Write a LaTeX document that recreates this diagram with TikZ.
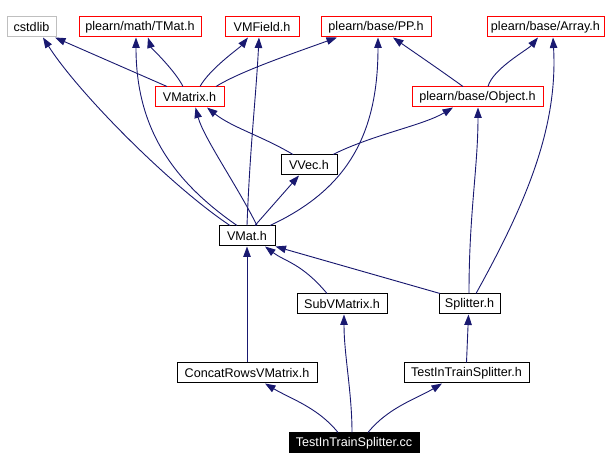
\documentclass[tikz,border=0pt]{standalone}
\usepackage{fontspec}
\setmainfont{Liberation Sans}
\usetikzlibrary{arrows.meta}
\definecolor{edgecol}{RGB}{25,25,112}
\definecolor{graybox}{RGB}{191,191,191}
\definecolor{redline}{RGB}{255,0,0}
\tikzset{
  filebox/.style={line width=1pt, minimum height=20pt, inner sep=0pt,
    font=\fontsize{12.6}{14}\selectfont, fill=white},
  blackbox/.style={filebox, draw=black},
  redbox/.style={filebox, draw=redline},
  greybox/.style={filebox, draw=graybox},
  rootbox/.style={filebox, draw=black, fill=black, text=white},
  dep/.style={draw=edgecol, line width=0.9pt, -{Triangle[length=10.5pt,width=7.5pt]}},
}
\begin{document}
\begin{tikzpicture}[x=1pt,y=-1pt]
\useasboundingbox (0,0) rectangle (614,470);
% nodes
\node[greybox, minimum width=49pt] (cstdlib) at (31.5,27) {cstdlib};
\node[redbox, minimum width=122pt] (tmat) at (140,27) {plearn/math/TMat.h};
\node[redbox, minimum width=74pt] (vmfield) at (262,27) {VMField.h};
\node[redbox, minimum width=110pt] (pp) at (376,27) {plearn/base/PP.h};
\node[redbox, minimum width=117pt] (array) at (545.5,27) {plearn/base/Array.h};
\node[redbox, minimum width=69pt] (vmatrix) at (189.5,97) {VMatrix.h};
\node[redbox, minimum width=131pt] (object) at (477.5,97) {plearn/base/Object.h};
\node[blackbox, minimum width=56pt] (vvec) at (309,165) {VVec.h};
\node[blackbox, minimum width=56pt] (vmat) at (247,236) {VMat.h};
\node[blackbox, minimum width=90pt] (subvm) at (342,304) {SubVMatrix.h};
\node[blackbox, minimum width=61pt] (splitter) at (469.5,304) {Splitter.h};
\node[blackbox, minimum width=140pt] (concat) at (247,373) {ConcatRowsVMatrix.h};
\node[blackbox, minimum width=125pt] (titsh) at (466.5,373) {TestInTrainSplitter.h};
\node[rootbox, minimum width=130pt] (cc) at (354,443) {TestInTrainSplitter.cc};
% edges from VMatrix.h
\draw[dep] ([xshift=-22.5]vmatrix.north) -- ([xshift=23.5]cstdlib.south);
\draw[dep] ([xshift=-6.5]vmatrix.north) .. controls +(-8,-16) and +(3,10) .. ([xshift=8]tmat.south);
\draw[dep] ([xshift=10.5]vmatrix.north) .. controls +(10,-18) and +(-8,10) .. ([xshift=-14]vmfield.south);
\draw[dep] ([xshift=26.5]vmatrix.north) .. controls +(24,-15) and +(-47,17) .. ([xshift=-39]pp.south);
% edges from Object.h
\draw[dep] ([xshift=-14.5]object.north) .. controls +(-25,-18) and +(20,14) .. ([xshift=17]pp.south);
\draw[dep] ([xshift=10.5]object.north) .. controls +(5,-18) and +(-10,12) .. ([xshift=-7.5]array.south);
% edges from VVec.h
\draw[dep] ([xshift=-16]vvec.north) .. controls +(-30,-18) and +(25,20) .. ([xshift=17.5]vmatrix.south);
\draw[dep] ([xshift=24]vvec.north) .. controls +(40,-20) and +(-30,18) .. ([xshift=-24.5]object.south);
% edges from VMat.h
\draw[dep] ([xshift=-17]vmat.north) .. controls +(-60,-40) and +(35,55) .. ([xshift=11.5]cstdlib.south);
\draw[dep] ([xshift=-10]vmat.north) .. controls +(-65,-45) and +(0,90) .. ([xshift=-4]tmat.south);
\draw[dep] ([xshift=0]vmat.north) .. controls +(3,-80) and +(-3,60) .. ([xshift=-3]vmfield.south);
\draw[dep] ([xshift=10]vmat.north) .. controls +(-20,-40) and +(8,30) .. ([xshift=6]vmatrix.south);
\draw[dep] ([xshift=8]vmat.north) -- ([xshift=-10]vvec.south);
\draw[dep] ([xshift=23]vmat.north) .. controls +(75,-35) and +(0,100) .. ([xshift=2]pp.south);
% edges into VMat.h
\draw[dep] ([xshift=-15]subvm.north) .. controls +(-25,-30) and +(20,15) .. ([xshift=18]vmat.south);
\draw[dep] ([xshift=-29.5]splitter.north) .. controls +(-70,-20) and +(35,10) .. (vmat.south east);
\draw[dep] (concat.north) -- (vmat.south);
% edges from Splitter.h
\draw[dep] ([xshift=-0.5]splitter.north) .. controls +(0,-80) and +(0,60) .. ([xshift=0.5]object.south);
\draw[dep] ([xshift=6.5]splitter.north) .. controls +(50,-90) and +(5,90) .. ([xshift=7.5]array.south);
\draw[dep] (titsh.north) -- ([xshift=-1]splitter.south);
% edges from TestInTrainSplitter.cc
\draw[dep] ([xshift=-16]cc.north) .. controls +(-20,-25) and +(25,15) .. ([xshift=18]concat.south);
\draw[dep] ([xshift=-2]cc.north) .. controls +(0,-40) and +(0,40) .. ([xshift=2]subvm.south);
\draw[dep] ([xshift=14]cc.north) .. controls +(20,-25) and +(-25,15) .. ([xshift=-24.5]titsh.south);
\end{tikzpicture}
\end{document}
